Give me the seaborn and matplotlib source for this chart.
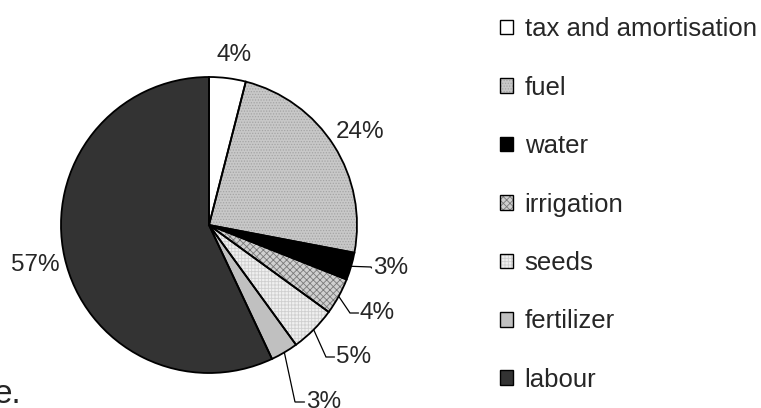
import numpy as np
import matplotlib
matplotlib.use("Agg")
import matplotlib.pyplot as plt
from matplotlib.patches import Patch
from matplotlib.legend_handler import HandlerTuple
import seaborn as sns

# Cost shares (%) of production, clockwise from 12 o'clock
categories = ["tax and amortisation", "fuel", "water", "irrigation",
              "seeds", "fertilizer", "labour"]
shares = [4, 24, 3, 4, 5, 3, 57]
share_labels = [f"{v}%" for v in shares]

# Grey-scale fills with textures for the patterned categories
face_colors = ["#ffffff", "#c8c8c8", "#000000", "#d0d0d0",
               "#f0f0f0", "#c0c0c0", "#333333"]
hatch_colors = ["#ffffff", "#a4a4a4", "#000000", "#7a7a7a",
                "#cfcfcf", "#c0c0c0", "#333333"]
hatches = [None, "......", None, "xxxxx", "+++++", None, None]

sns.set_theme(style="white")
plt.rcParams["font.family"] = ["Liberation Sans", "DejaVu Sans"]
plt.rcParams["hatch.linewidth"] = 0.6

W, H = 761, 408
fig = plt.figure(figsize=(W / 100, H / 100), dpi=100)
ax = fig.add_axes([0, 0, 1, 1])

# pie centre / radius in pixels, used to place the data frame on the canvas
cx, cy, r = 209, 225, 148

def px(x, y):
    return (x - cx) / r, (cy - y) / r

# Textured fill pass
fill_wedges, _ = ax.pie(shares, startangle=90, counterclock=False,
                        colors=face_colors, radius=1.0,
                        wedgeprops=dict(linewidth=0))
for w, h, hc in zip(fill_wedges, hatches, hatch_colors):
    if h:
        w.set_hatch(h)
        w.set_edgecolor(hc)
        w.set_linewidth(0)

# Outline pass
edge_wedges, _ = ax.pie(shares, startangle=90, counterclock=False,
                        radius=1.0,
                        wedgeprops=dict(fill=False, edgecolor="black",
                                        linewidth=1.3))

ax.set_xlim(-cx / r, (W - cx) / r)
ax.set_ylim(-(H - cy) / r, cy / r)
ax.set_aspect("auto")
ax.axis("off")

fs = 17.5
fs_leg = 18.5

# Labels placed directly beside their slices
direct = {0: (234, 55), 1: (360, 132), 6: (35, 265)}
for i, (x, y) in direct.items():
    lx, ly = px(x, y)
    ax.text(lx, ly, share_labels[i], ha="center", va="center", fontsize=fs)

# Labels with leader lines: (bend point, text start) in pixels
leaders = {
    2: ((352, 267), (371, 267), (373, 268)),
    3: ((340, 297), (350, 313), (360, 313)),
    4: ((317, 327), (326, 357), (336, 357)),
    5: ((288, 352), (295, 402), (306, 402)),
}
for i, (_, bend, txt) in leaders.items():
    w = edge_wedges[i]
    mid = np.deg2rad((w.theta1 + w.theta2) / 2)
    ex, ey = np.cos(mid), np.sin(mid)
    bx, by = px(*bend)
    tx, ty = px(*txt)
    ax.plot([ex, bx, tx - 0.01], [ey, by, ty], color="black", lw=0.9,
            solid_joinstyle="miter")
    ax.text(tx, ty, share_labels[i], ha="left", va="center", fontsize=fs)

# Legend: a textured fill overlaid with a black outline for each key
handles = []
for c, h, hc in zip(face_colors, hatches, hatch_colors):
    fill = Patch(facecolor=c, edgecolor=hc, hatch=h, linewidth=0)
    outline = Patch(facecolor="none", edgecolor="black", linewidth=1.0)
    handles.append((fill, outline))
leg = fig.legend(handles, categories, loc="upper left",
                 bbox_to_anchor=(490 / W, 1 - 7 / H),
                 handler_map={tuple: HandlerTuple(ndivide=1, pad=0)},
                 frameon=False, fontsize=fs_leg, handlelength=0.5,
                 handleheight=0.5, handletextpad=0.45,
                 labelspacing=1.34, borderaxespad=0)

# Fragment of running text at the lower-left edge
fig.text(-6 / W, 1 - 403 / H, "e.", fontsize=24, va="baseline", ha="left")

fig.savefig("out.png", dpi=100)
